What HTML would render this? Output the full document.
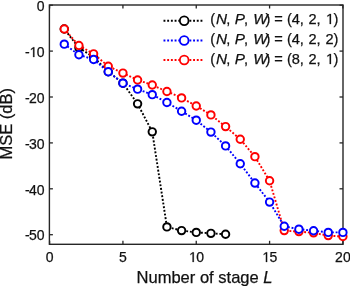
<!DOCTYPE html>
<html><head><meta charset="utf-8"><style>
html,body{margin:0;padding:0;background:#fff;width:350px;height:286px;overflow:hidden}
svg{display:block;will-change:transform}
text{font-family:"Liberation Sans",sans-serif;fill:#111;stroke:#111;stroke-width:0.25px}
.t{font-size:14px}
.one{fill-opacity:0;stroke-opacity:0}
.p1{fill:#111;stroke:#111;stroke-width:0.25px;vector-effect:non-scaling-stroke}
.lg{font-size:14.6px}
.it{font-style:italic;font-size:15.3px}
.lb{font-size:16.55px}
</style></head><body>
<svg width="350" height="286" viewBox="0 0 350 286">
<rect x="49.4" y="5.0" width="293.6" height="239.3" fill="none" stroke="#262626" stroke-width="1.4"/>
<line x1="49.60" y1="244.3" x2="49.60" y2="240.8" stroke="#262626" stroke-width="1.3"/>
<line x1="49.60" y1="5.0" x2="49.60" y2="8.5" stroke="#262626" stroke-width="1.3"/>
<text x="49.60" y="261.7" text-anchor="middle" class="t">0</text>
<line x1="122.93" y1="244.3" x2="122.93" y2="240.8" stroke="#262626" stroke-width="1.3"/>
<line x1="122.93" y1="5.0" x2="122.93" y2="8.5" stroke="#262626" stroke-width="1.3"/>
<text x="122.93" y="261.7" text-anchor="middle" class="t">5</text>
<line x1="196.25" y1="244.3" x2="196.25" y2="240.8" stroke="#262626" stroke-width="1.3"/>
<line x1="196.25" y1="5.0" x2="196.25" y2="8.5" stroke="#262626" stroke-width="1.3"/>
<text x="196.25" y="261.7" text-anchor="middle" class="t"><tspan class="one">1</tspan>0</text>
<line x1="269.58" y1="244.3" x2="269.58" y2="240.8" stroke="#262626" stroke-width="1.3"/>
<line x1="269.58" y1="5.0" x2="269.58" y2="8.5" stroke="#262626" stroke-width="1.3"/>
<text x="269.58" y="261.7" text-anchor="middle" class="t"><tspan class="one">1</tspan>5</text>
<line x1="342.90" y1="244.3" x2="342.90" y2="240.8" stroke="#262626" stroke-width="1.3"/>
<line x1="342.90" y1="5.0" x2="342.90" y2="8.5" stroke="#262626" stroke-width="1.3"/>
<text x="342.90" y="261.7" text-anchor="middle" class="t">20</text>
<line x1="49.4" y1="5.20" x2="52.9" y2="5.20" stroke="#262626" stroke-width="1.3"/>
<line x1="343.0" y1="5.20" x2="339.5" y2="5.20" stroke="#262626" stroke-width="1.3"/>
<text x="44.6" y="10.90" text-anchor="end" class="t">0</text>
<line x1="49.4" y1="51.10" x2="52.9" y2="51.10" stroke="#262626" stroke-width="1.3"/>
<line x1="343.0" y1="51.10" x2="339.5" y2="51.10" stroke="#262626" stroke-width="1.3"/>
<text x="44.6" y="56.80" text-anchor="end" class="t">-<tspan dx="-0.6"><tspan class="one">1</tspan>0</tspan></text>
<line x1="49.4" y1="97.00" x2="52.9" y2="97.00" stroke="#262626" stroke-width="1.3"/>
<line x1="343.0" y1="97.00" x2="339.5" y2="97.00" stroke="#262626" stroke-width="1.3"/>
<text x="44.6" y="102.70" text-anchor="end" class="t">-<tspan dx="-0.6">20</tspan></text>
<line x1="49.4" y1="142.90" x2="52.9" y2="142.90" stroke="#262626" stroke-width="1.3"/>
<line x1="343.0" y1="142.90" x2="339.5" y2="142.90" stroke="#262626" stroke-width="1.3"/>
<text x="44.6" y="148.60" text-anchor="end" class="t">-<tspan dx="-0.6">30</tspan></text>
<line x1="49.4" y1="188.80" x2="52.9" y2="188.80" stroke="#262626" stroke-width="1.3"/>
<line x1="343.0" y1="188.80" x2="339.5" y2="188.80" stroke="#262626" stroke-width="1.3"/>
<text x="44.6" y="194.50" text-anchor="end" class="t">-<tspan dx="-0.6">40</tspan></text>
<line x1="49.4" y1="234.70" x2="52.9" y2="234.70" stroke="#262626" stroke-width="1.3"/>
<line x1="343.0" y1="234.70" x2="339.5" y2="234.70" stroke="#262626" stroke-width="1.3"/>
<text x="44.6" y="240.40" text-anchor="end" class="t">-<tspan dx="-0.6">50</tspan></text>
<polyline points="64.27,29.02 78.93,47.84 93.60,57.02 108.26,71.71 122.93,83.18 137.59,103.84 152.26,131.84 166.92,226.90 181.59,230.57 196.25,232.40 210.92,233.32 225.58,234.24" fill="none" stroke="#000" stroke-width="1.9" stroke-dasharray="1.9 1.8" stroke-dashoffset="1.85"/>
<circle cx="64.27" cy="29.02" r="3.72" fill="#fff" stroke="#000" stroke-width="1.95"/>
<circle cx="78.93" cy="47.84" r="3.72" fill="#fff" stroke="#000" stroke-width="1.95"/>
<circle cx="93.60" cy="57.02" r="3.72" fill="#fff" stroke="#000" stroke-width="1.95"/>
<circle cx="108.26" cy="71.71" r="3.72" fill="#fff" stroke="#000" stroke-width="1.95"/>
<circle cx="122.93" cy="83.18" r="3.72" fill="#fff" stroke="#000" stroke-width="1.95"/>
<circle cx="137.59" cy="103.84" r="3.72" fill="#fff" stroke="#000" stroke-width="1.95"/>
<circle cx="152.26" cy="131.84" r="3.72" fill="#fff" stroke="#000" stroke-width="1.95"/>
<circle cx="166.92" cy="226.90" r="3.72" fill="#fff" stroke="#000" stroke-width="1.95"/>
<circle cx="181.59" cy="230.57" r="3.72" fill="#fff" stroke="#000" stroke-width="1.95"/>
<circle cx="196.25" cy="232.40" r="3.72" fill="#fff" stroke="#000" stroke-width="1.95"/>
<circle cx="210.92" cy="233.32" r="3.72" fill="#fff" stroke="#000" stroke-width="1.95"/>
<circle cx="225.58" cy="234.24" r="3.72" fill="#fff" stroke="#000" stroke-width="1.95"/>

<polyline points="64.27,29.02 78.93,45.55 93.60,53.85 108.26,66.20 122.93,73.09 137.59,79.97 152.26,85.02 166.92,91.45 181.59,97.92 196.25,105.95 210.92,114.90 225.58,126.61 240.25,139.23 254.91,156.67 269.58,180.77 284.24,230.57 298.91,231.62 313.57,232.86 328.24,235.62 342.90,236.54" fill="none" stroke="#ff0000" stroke-width="1.9" stroke-dasharray="1.9 1.8" stroke-dashoffset="0"/>
<circle cx="64.27" cy="29.02" r="3.72" fill="#fff" stroke="#ff0000" stroke-width="1.95"/>
<circle cx="78.93" cy="45.55" r="3.72" fill="#fff" stroke="#ff0000" stroke-width="1.95"/>
<circle cx="93.60" cy="53.85" r="3.72" fill="#fff" stroke="#ff0000" stroke-width="1.95"/>
<circle cx="108.26" cy="66.20" r="3.72" fill="#fff" stroke="#ff0000" stroke-width="1.95"/>
<circle cx="122.93" cy="73.09" r="3.72" fill="#fff" stroke="#ff0000" stroke-width="1.95"/>
<circle cx="137.59" cy="79.97" r="3.72" fill="#fff" stroke="#ff0000" stroke-width="1.95"/>
<circle cx="152.26" cy="85.02" r="3.72" fill="#fff" stroke="#ff0000" stroke-width="1.95"/>
<circle cx="166.92" cy="91.45" r="3.72" fill="#fff" stroke="#ff0000" stroke-width="1.95"/>
<circle cx="181.59" cy="97.92" r="3.72" fill="#fff" stroke="#ff0000" stroke-width="1.95"/>
<circle cx="196.25" cy="105.95" r="3.72" fill="#fff" stroke="#ff0000" stroke-width="1.95"/>
<circle cx="210.92" cy="114.90" r="3.72" fill="#fff" stroke="#ff0000" stroke-width="1.95"/>
<circle cx="225.58" cy="126.61" r="3.72" fill="#fff" stroke="#ff0000" stroke-width="1.95"/>
<circle cx="240.25" cy="139.23" r="3.72" fill="#fff" stroke="#ff0000" stroke-width="1.95"/>
<circle cx="254.91" cy="156.67" r="3.72" fill="#fff" stroke="#ff0000" stroke-width="1.95"/>
<circle cx="269.58" cy="180.77" r="3.72" fill="#fff" stroke="#ff0000" stroke-width="1.95"/>
<circle cx="284.24" cy="230.57" r="3.72" fill="#fff" stroke="#ff0000" stroke-width="1.95"/>
<circle cx="298.91" cy="231.62" r="3.72" fill="#fff" stroke="#ff0000" stroke-width="1.95"/>
<circle cx="313.57" cy="232.86" r="3.72" fill="#fff" stroke="#ff0000" stroke-width="1.95"/>
<circle cx="328.24" cy="235.62" r="3.72" fill="#fff" stroke="#ff0000" stroke-width="1.95"/>
<circle cx="342.90" cy="236.54" r="3.72" fill="#fff" stroke="#ff0000" stroke-width="1.95"/>

<polyline points="64.27,44.17 78.93,54.77 93.60,59.45 108.26,71.71 122.93,83.18 137.59,89.15 152.26,94.66 166.92,102.46 181.59,111.23 196.25,120.18 210.92,132.11 225.58,145.88 240.25,163.78 254.91,183.06 269.58,202.11 284.24,226.21 298.91,229.19 313.57,230.71 328.24,232.40 342.90,232.40" fill="none" stroke="#0000ff" stroke-width="1.9" stroke-dasharray="1.9 1.8" stroke-dashoffset="0"/>
<circle cx="64.27" cy="44.17" r="3.72" fill="#fff" stroke="#0000ff" stroke-width="1.95"/>
<circle cx="78.93" cy="54.77" r="3.72" fill="#fff" stroke="#0000ff" stroke-width="1.95"/>
<circle cx="93.60" cy="59.45" r="3.72" fill="#fff" stroke="#0000ff" stroke-width="1.95"/>
<circle cx="108.26" cy="71.71" r="3.72" fill="#fff" stroke="#0000ff" stroke-width="1.95"/>
<circle cx="122.93" cy="83.18" r="3.72" fill="#fff" stroke="#0000ff" stroke-width="1.95"/>
<circle cx="137.59" cy="89.15" r="3.72" fill="#fff" stroke="#0000ff" stroke-width="1.95"/>
<circle cx="152.26" cy="94.66" r="3.72" fill="#fff" stroke="#0000ff" stroke-width="1.95"/>
<circle cx="166.92" cy="102.46" r="3.72" fill="#fff" stroke="#0000ff" stroke-width="1.95"/>
<circle cx="181.59" cy="111.23" r="3.72" fill="#fff" stroke="#0000ff" stroke-width="1.95"/>
<circle cx="196.25" cy="120.18" r="3.72" fill="#fff" stroke="#0000ff" stroke-width="1.95"/>
<circle cx="210.92" cy="132.11" r="3.72" fill="#fff" stroke="#0000ff" stroke-width="1.95"/>
<circle cx="225.58" cy="145.88" r="3.72" fill="#fff" stroke="#0000ff" stroke-width="1.95"/>
<circle cx="240.25" cy="163.78" r="3.72" fill="#fff" stroke="#0000ff" stroke-width="1.95"/>
<circle cx="254.91" cy="183.06" r="3.72" fill="#fff" stroke="#0000ff" stroke-width="1.95"/>
<circle cx="269.58" cy="202.11" r="3.72" fill="#fff" stroke="#0000ff" stroke-width="1.95"/>
<circle cx="284.24" cy="226.21" r="3.72" fill="#fff" stroke="#0000ff" stroke-width="1.95"/>
<circle cx="298.91" cy="229.19" r="3.72" fill="#fff" stroke="#0000ff" stroke-width="1.95"/>
<circle cx="313.57" cy="230.71" r="3.72" fill="#fff" stroke="#0000ff" stroke-width="1.95"/>
<circle cx="328.24" cy="232.40" r="3.72" fill="#fff" stroke="#0000ff" stroke-width="1.95"/>
<circle cx="342.90" cy="232.40" r="3.72" fill="#fff" stroke="#0000ff" stroke-width="1.95"/>

<line x1="163.5" y1="20.8" x2="203" y2="20.8" stroke="#000" stroke-width="1.9" stroke-dasharray="1.9 1.8"/>
<circle cx="184.2" cy="20.8" r="4.35" fill="#fff" stroke="#000" stroke-width="1.8"/>
<text x="210.2" y="24.10" class="lg">(<tspan class="it" dx="0.8">N</tspan><tspan dx="-0.6">, </tspan><tspan class="it" dx="0.3">P</tspan><tspan dx="-0.9">, </tspan><tspan class="it" dx="1.0">W</tspan><tspan dx="-2.2">) = (4, <tspan dx="0.4">2</tspan>, <tspan dx="0.8"><tspan class="one">1</tspan></tspan>)</tspan></text>
<line x1="163.5" y1="40.5" x2="203" y2="40.5" stroke="#0000ff" stroke-width="1.9" stroke-dasharray="1.9 1.8"/>
<circle cx="184.2" cy="40.5" r="4.35" fill="#fff" stroke="#0000ff" stroke-width="1.8"/>
<text x="210.2" y="43.80" class="lg">(<tspan class="it" dx="0.8">N</tspan><tspan dx="-0.6">, </tspan><tspan class="it" dx="0.3">P</tspan><tspan dx="-0.9">, </tspan><tspan class="it" dx="1.0">W</tspan><tspan dx="-2.2">) = (4, <tspan dx="0.4">2</tspan>, <tspan dx="0.8">2</tspan>)</tspan></text>
<line x1="163.5" y1="60.0" x2="203" y2="60.0" stroke="#ff0000" stroke-width="1.9" stroke-dasharray="1.9 1.8"/>
<circle cx="184.2" cy="60.0" r="4.35" fill="#fff" stroke="#ff0000" stroke-width="1.8"/>
<text x="210.2" y="64.00" class="lg">(<tspan class="it" dx="0.8">N</tspan><tspan dx="-0.6">, </tspan><tspan class="it" dx="0.3">P</tspan><tspan dx="-0.9">, </tspan><tspan class="it" dx="1.0">W</tspan><tspan dx="-2.2">) = (8, <tspan dx="0.4">2</tspan>, <tspan dx="0.8"><tspan class="one">1</tspan></tspan>)</tspan></text>
<text x="136.5" y="282.6" class="lb">Number of stage <tspan font-style="italic">L</tspan></text>
<text transform="translate(12.4,159.6) rotate(-90)" class="lb">MSE (dB)</text>
<path class="p1" transform="translate(189.05,262.00) scale(0.006836,-0.006836)" d="M515 0V1237L197 1010V1180L530 1409H696V0Z"/>
<path class="p1" transform="translate(262.38,262.00) scale(0.006836,-0.006836)" d="M515 0V1237L197 1010V1180L530 1409H696V0Z"/>
<path class="p1" transform="translate(29.61,57.00) scale(0.006836,-0.006836)" d="M515 0V1237L197 1010V1180L530 1409H696V0Z"/>
<path class="p1" transform="translate(326.02,24.00) scale(0.007129,-0.007129)" d="M515 0V1237L197 1010V1180L530 1409H696V0Z"/>
<path class="p1" transform="translate(326.02,64.00) scale(0.007129,-0.007129)" d="M515 0V1237L197 1010V1180L530 1409H696V0Z"/>
</svg></body></html>
